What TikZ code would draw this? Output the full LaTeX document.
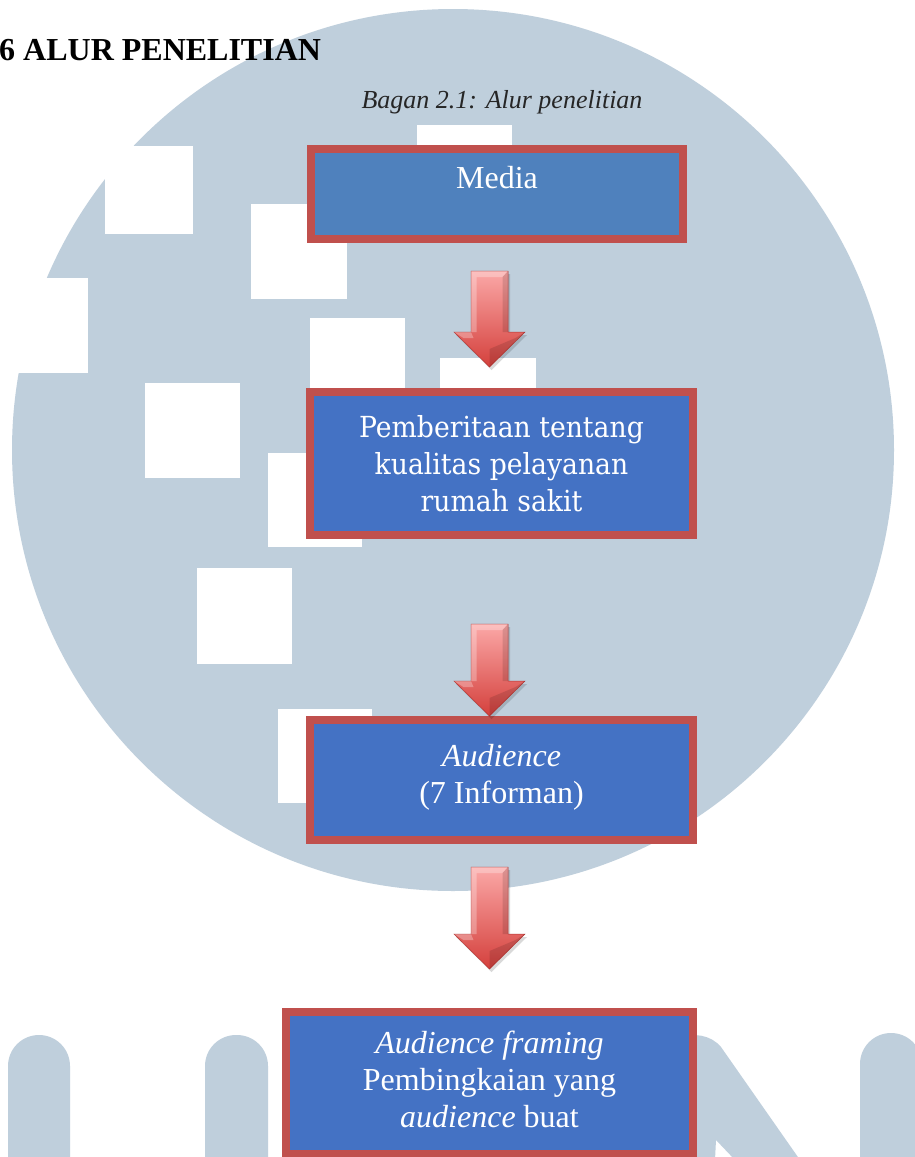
\documentclass[tikz,border=0pt]{standalone}
\usepackage{fontspec}
\setmainfont{Liberation Serif}
\newfontfamily\newsfont[FakeStretch=0.92]{DejaVu Serif}
\usetikzlibrary{calc,shadows}

\definecolor{wmblue}{RGB}{191,207,220}
\definecolor{boxred}{RGB}{192,80,77}
\definecolor{mediablue}{RGB}{79,129,189}
\definecolor{boxblue}{RGB}{68,114,196}
\definecolor{arrowtop}{RGB}{251,168,167}
\definecolor{arrowbottom}{RGB}{212,64,60}

\tikzset{
	flowbox/.style={draw=boxred, line width=8pt, fill=boxblue, text=white, align=center, inner sep=0pt,
		font=\fontsize{32}{37}\selectfont,
		drop shadow={shadow xshift=3pt, shadow yshift=-4pt, opacity=.3}},
	arrowbody/.style={top color=arrowtop, bottom color=arrowbottom, draw=arrowbottom!85!black, line width=.5pt},
	arrowlit/.style={fill=white, fill opacity=.28},
	arrowdim/.style={fill=black, fill opacity=.12},
	wmcut/.style={fill=white},
}
\def\flowarrow#1#2{%
	\coordinate (fa-top) at (#1);
	\coordinate (fa-lvl) at (#2);
	\coordinate (fa-tip) at (fa-top |- fa-lvl);
	\fill[black, opacity=.15] ($(fa-top)+(-16.5,3)$) -- ($(fa-top)+(20.5,3)$) -- ($(fa-tip)+(20.5,-32)$) -- ($(fa-tip)+(37.5,-32)$) -- ($(fa-tip)+(2,3)$) -- ($(fa-tip)+(-33.5,-32)$) -- ($(fa-tip)+(-16.5,-32)$) -- cycle;
	\draw[arrowbody] ($(fa-top)+(-18.5,0)$) -- ($(fa-top)+(18.5,0)$) -- ($(fa-tip)+(18.5,-35)$) -- ($(fa-tip)+(35.5,-35)$) -- (fa-tip) -- ($(fa-tip)+(-35.5,-35)$) -- ($(fa-tip)+(-18.5,-35)$) -- cycle;
	\fill[arrowlit] ($(fa-top)+(-18.5,0)$) -- ($(fa-top)+(18.5,0)$) -- ($(fa-top)+(13,6)$) -- ($(fa-top)+(-13,6)$) -- cycle;
	\fill[arrowlit] ($(fa-top)+(-18.5,0)$) -- ($(fa-top)+(-13,6)$) -- ($(fa-tip)+(-13,-35)$) -- ($(fa-tip)+(-18.5,-35)$) -- cycle;
	\fill[arrowdim] ($(fa-top)+(18.5,0)$) -- ($(fa-top)+(13,6)$) -- ($(fa-tip)+(13,-35)$) -- ($(fa-tip)+(18.5,-35)$) -- cycle;
	\fill[arrowlit] ($(fa-tip)+(-35.5,-35)$) -- ($(fa-tip)+(-18.5,-35)$) -- ($(fa-tip)+(-16,-29)$) -- ($(fa-tip)+(-26,-29)$) -- cycle;
	\fill[arrowdim] ($(fa-tip)+(0,-18)$) -- ($(fa-tip)+(26,-29)$) -- ($(fa-tip)+(35.5,-35)$) -- (fa-tip) -- cycle;}

\begin{document}
\begin{tikzpicture}[x=1pt, y=-1pt]
		%%%%% START %%%%%
		\useasboundingbox (0,0) rectangle (915,1157);
		\clip (0,0) rectangle (915,1157);
		\fill[white] (0,0) rectangle (915,1157);
		
		% watermark
		\fill[wmblue] (453,450) circle (441);
		\fill[wmcut] (105,146) rectangle (193,234);
		\fill[wmcut] (251,204) rectangle (347,299);
		\fill[wmcut] (417,125) rectangle (512,160);
		\fill[wmcut] (0,278) rectangle (88,373);
		\fill[wmcut] (310,318) rectangle (405,413);
		\fill[wmcut] (440,358) rectangle (536,400);
		\fill[wmcut] (145,383) rectangle (240,478);
		\fill[wmcut] (268,453) rectangle (362,547);
		\fill[wmcut] (197,568) rectangle (292,664);
		\fill[wmcut] (278,709) rectangle (372,803);
		
		\fill[wmblue, rounded corners=31pt] (8,1035) rectangle (70,1220);
		\fill[wmblue, rounded corners=31pt] (205,1035) rectangle (268,1220);
		\fill[wmblue, rounded corners=31pt] (860,1033) rectangle (922,1220);
		\fill[wmblue] (653,1160) -- (653,1066) .. controls (653,1040) and (700,1022) .. (721,1047) -- (800,1160) -- (735,1160) -- (716,1140) -- (715,1160) -- cycle;
		
		% heading
		\node[anchor=base west, inner sep=0pt, font=\bfseries\fontsize{32}{38}\selectfont] (title) at (-1,60) {6 ALUR PENELITIAN};
		\node[anchor=base, inner sep=0pt, text=black!85, font=\itshape\fontsize{26}{30}\selectfont] (caption) at (502,108) {Bagan 2.1: Alur penelitian};
		
		% boxes
		\node[flowbox, fill=mediablue, minimum width=372pt, minimum height=90pt] (media) at (497,194) {Media\rule[-34pt]{0pt}{0pt}};
		\node[flowbox, minimum width=383pt, minimum height=143pt, font=\newsfont\fontsize{29}{37}\selectfont] (news) at (501.5,463.5) {Pemberitaan tentang\\kualitas pelayanan\\rumah sakit};
		\node[flowbox, minimum width=383pt, minimum height=120pt] (aud) at (501.5,780) {\textit{Audience}\\(7 Informan)\rule[-12pt]{0pt}{0pt}};
		\node[flowbox, minimum width=407pt, minimum height=142pt] (framing) at (489.5,1083) {\textit{Audience framing}\\Pembingkaian yang\\\textit{audience} buat\rule[-8pt]{0pt}{0pt}};
		
		% arrows
		\flowarrow{$(framing.north |- media.south)+(0,28)$}{$(news.north)+(0,-21)$}
		\flowarrow{$(framing.north |- news.south)+(0,85)$}{aud.north}
		\flowarrow{$(framing.north |- aud.south)+(0,23)$}{$(framing.north)+(0,-39)$}
		
		%%%%% END %%%%%
\end{tikzpicture}
\end{document}
